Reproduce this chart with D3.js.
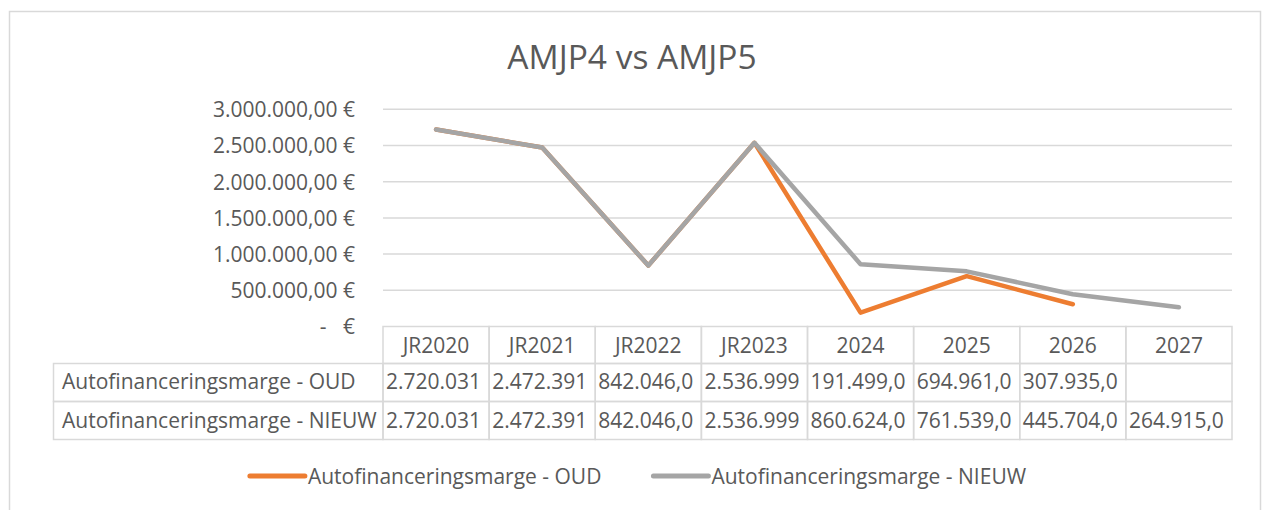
<!DOCTYPE html>
<html>
<head>
<meta charset="utf-8">
<script src="https://cdn.jsdelivr.net/npm/d3@7"></script>
<style>
  body { margin: 0; background: #fff; }
  text { font-family: "Open Sans", sans-serif; fill: #595959; }
</style>
</head>
<body>
<script>
// AMJP4 vs AMJP5 - line chart with data table

var title = 'AMJP4 vs AMJP5';
var categories = ['JR2020', 'JR2021', 'JR2022', 'JR2023', '2024', '2025', '2026', '2027'];
var oudValues = [2720031, 2472391, 842046, 2536999, 191499, 694961, 307935, null];
var nieuwValues = [2720031, 2472391, 842046, 2536999, 860624, 761539, 445704, 264915];
var seriesNames = ['Autofinanceringsmarge - OUD', 'Autofinanceringsmarge - NIEUW'];
var seriesColors = ['#ED7D31', '#A5A5A5'];
var yTicks = [0, 500000, 1000000, 1500000, 2000000, 2500000, 3000000];

var width = 1262, height = 510;
var fontSize = 21;
var gridColor = '#D9D9D9';

var nl = d3.formatLocale({decimal: ',', thousands: '.', grouping: [3], currency: ['', ' €']});
var fmtTick = nl.format(',.2f');
var fmtVal = nl.format(',.1f');

var series = [
    {name: seriesNames[0], color: seriesColors[0], values: oudValues}
    , {name: seriesNames[1], color: seriesColors[1], values: nieuwValues}
];

var svg = d3.select('body').append('svg')
    .attr('width', width)
    .attr('height', height);

// chart frame
svg.append('rect')
    .attr('x', 9.5).attr('y', 11.5)
    .attr('width', 1251).attr('height', 520)
    .attr('fill', 'none')
    .attr('stroke', gridColor)
    .attr('stroke-width', 1.5);

svg.append('text')
    .attr('x', 632).attr('y', 69)
    .attr('text-anchor', 'middle')
    .style('font-size', '33.5px')
    .text(title);

var x = d3.scaleBand().domain(categories).range([383, 1232]);
var y = d3.scaleLinear().domain([0, 3000000]).range([326.5, 109.3]);

// gridlines
svg.append('g')
    .selectAll('line')
    .data(yTicks.slice(1))
    .enter()
    .append('line')
    .attr('x1', 383).attr('x2', 1232)
    .attr('y1', function(d) { return y(d); })
    .attr('y2', function(d) { return y(d); })
    .attr('stroke', gridColor)
    .attr('stroke-width', 1.5);

// y axis labels
var yAxis = d3.axisLeft(y)
    .tickValues(yTicks)
    .tickSize(0)
    .tickPadding(0)
    .tickFormat(function(d) { return d === 0 ? '-\u00a0\u00a0\u00a0€' : fmtTick(d) + ' €'; });

var yg = svg.append('g')
    .attr('transform', 'translate(355,0)')
    .call(yAxis);
yg.select('.domain').remove();
yg.selectAll('text')
    .attr('x', 0)
    .attr('dy', '0.35em')
    .style('font-size', fontSize + 'px')
    .style('font-family', '"Open Sans", sans-serif')
    .attr('fill', '#595959');

// lines
var line = d3.line()
    .defined(function(d) { return d != null; })
    .x(function(d, i) { return x(categories[i]) + x.bandwidth() / 2; })
    .y(function(d) { return y(d); });

svg.append('g')
    .selectAll('path')
    .data(series)
    .enter()
    .append('path')
    .attr('d', function(d) { return line(d.values); })
    .attr('fill', 'none')
    .attr('stroke', function(d) { return d.color; })
    .attr('stroke-width', 4.5)
    .attr('stroke-linejoin', 'round')
    .attr('stroke-linecap', 'round');

// data table
var rowTops = [326.5, 363.5, 401.5, 439.5];
var table = svg.append('g');

// header row
categories.forEach(function(c, i) {
    var x0 = x(c);
    table.append('rect')
        .attr('x', x0).attr('y', rowTops[0])
        .attr('width', x.bandwidth()).attr('height', rowTops[1] - rowTops[0])
        .attr('fill', 'none').attr('stroke', gridColor).attr('stroke-width', 1.5);
    table.append('text')
        .attr('x', x0 + x.bandwidth() / 2).attr('y', 353.3)
        .attr('text-anchor', 'middle')
        .style('font-size', fontSize + 'px')
        .text(c);
});

var rowBaselines = [389.3, 427.7];
series.forEach(function(s, r) {
    var top = rowTops[r + 1], h = rowTops[r + 2] - top;
    table.append('rect')
        .attr('x', 53.5).attr('y', top)
        .attr('width', 383 - 53.5).attr('height', h)
        .attr('fill', 'none').attr('stroke', gridColor).attr('stroke-width', 1.5);
    table.append('text')
        .attr('x', 62).attr('y', rowBaselines[r])
        .style('font-size', fontSize + 'px')
        .text(s.name);
    s.values.forEach(function(v, i) {
        var x0 = x(categories[i]);
        table.append('rect')
            .attr('x', x0).attr('y', top)
            .attr('width', x.bandwidth()).attr('height', h)
            .attr('fill', 'none').attr('stroke', gridColor).attr('stroke-width', 1.5);
        if (v != null) {
            var t = table.append('text')
                .attr('x', x0 + 3).attr('y', rowBaselines[r])
                .style('font-size', fontSize + 'px')
                .text(fmtVal(v));
            // cut characters that do not fit in the cell, like the spreadsheet does
            var str = fmtVal(v);
            while (t.node().getComputedTextLength() > x.bandwidth() - 6 && str.length > 1) {
                str = str.slice(0, -1);
                t.text(str);
            }
        }
    });
});

// legend
var legend = svg.append('g');
var items = legend.selectAll('g')
    .data(series)
    .enter()
    .append('g');
items.append('line')
    .attr('x1', 0).attr('x2', 55)
    .attr('y1', 476).attr('y2', 476)
    .attr('stroke', function(d) { return d.color; })
    .attr('stroke-width', 5)
    .attr('stroke-linecap', 'round');
items.append('text')
    .attr('x', 58).attr('y', 483.5)
    .style('font-size', fontSize + 'px')
    .text(function(d) { return d.name; });

var offsets = [], total = 0;
items.each(function(d, i) {
    var w = 58 + d3.select(this).select('text').node().getComputedTextLength();
    offsets.push(total);
    total += w + (i < series.length - 1 ? 52 : 0);
});
var start = 638 - total / 2;
items.attr('transform', function(d, i) { return 'translate(' + (start + offsets[i]) + ',0)'; });
</script>
</body>
</html>
